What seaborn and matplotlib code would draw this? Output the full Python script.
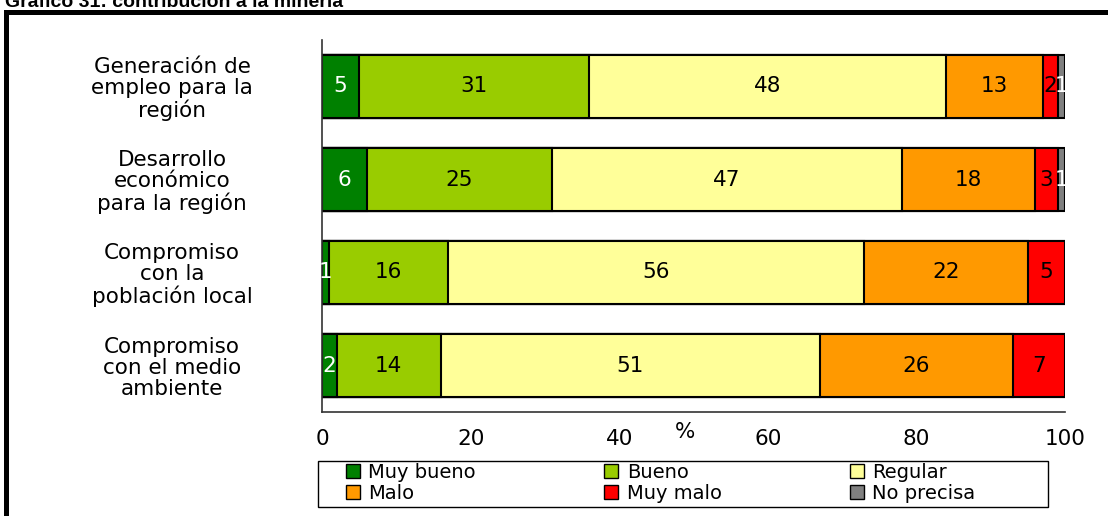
import numpy as np
import pandas as pd
import matplotlib
matplotlib.use('Agg')
import matplotlib.pyplot as plt
import seaborn as sns
from matplotlib.patches import Patch, Rectangle

# data
categories = ['Generación de\nempleo para la\nregión',
              'Desarrollo\neconómico\npara la región',
              'Compromiso\ncon la\npoblación local',
              'Compromiso\ncon el medio\nambiente']
series = ['Muy bueno', 'Bueno', 'Regular', 'Malo', 'Muy malo', 'No precisa']
muy_bueno = [5, 6, 1, 2]
bueno = [31, 25, 16, 14]
regular = [48, 47, 56, 51]
malo = [13, 18, 22, 26]
muy_malo = [2, 3, 5, 7]
no_precisa = [1, 1, 0, 0]

colors = ['#008000', '#99CC00', '#FFFF99', '#FF9900', '#FF0000', '#808080']
text_colors = ['white', 'black', 'black', 'black', 'black', 'white']

sns.set_style('white')
plt.rcParams['font.family'] = ['DejaVu Sans']
plt.rcParams['text.color'] = 'black'
plt.rcParams['xtick.color'] = 'black'
plt.rcParams['ytick.color'] = 'black'

values = np.array([muy_bueno, bueno, regular, malo, muy_malo, no_precisa])
cum = values.cumsum(axis=0)
df = pd.DataFrame(cum.T, columns=series)
df['categoria'] = categories

W, H = 1108, 516
fig = plt.figure(figsize=(W / 100, H / 100), dpi=100)
ax = fig.add_axes([322 / W, 1 - 412 / H, 743 / W, 372 / H])

# stacked bars: draw cumulative totals from the outermost segment inwards
for i in reversed(range(len(series))):
    sns.barplot(data=df, x=series[i], y='categoria', color=colors[i],
                saturation=1, orient='h', width=0.67, edgecolor='black',
                linewidth=1.5, ax=ax)

# segment labels
for i in range(len(series)):
    for j in range(len(categories)):
        v = values[i, j]
        if v == 0:
            continue
        start = cum[i, j] - v
        ax.text(start + v / 2, j, str(v), ha='center', va='center',
                fontsize=15.5, color=text_colors[i])

ax.set_xlim(0, 100)
ax.set_ylim(3.5, -0.5)
ax.set_xticks(range(0, 101, 20))
ax.set_xlabel('')
ax.set_ylabel('')
ax.tick_params(axis='x', direction='inout', length=6, width=1.2,
               labelsize=15.5, pad=9)
ax.tick_params(axis='y', which='major', length=0, labelsize=15.5, pad=108)
ax.set_yticks([-0.5, 0.5, 1.5, 2.5, 3.5], minor=True)
ax.tick_params(axis='y', which='minor', direction='out', length=9, width=1.2)
for lab in ax.get_yticklabels():
    lab.set_ha('center')
    lab.set_multialignment('center')
    lab.set_linespacing(1.05)

sns.despine(ax=ax)
for s in ['left', 'bottom']:
    ax.spines[s].set_linewidth(1.2)
    ax.spines[s].set_color('#333333')

fig.text(685 / W, 1 - 432 / H, '%', ha='center', va='center', fontsize=15.5)

# legend, row-wise order in a 3-column layout, with its own frame
handles = [Patch(facecolor=c, edgecolor='black', linewidth=1) for c in colors]
order = [0, 3, 1, 4, 2, 5]
fig.legend([handles[k] for k in order], [series[k] for k in order],
           ncol=3, loc='upper left', bbox_to_anchor=(346 / W, 1 - 463 / H),
           fontsize=14, frameon=False, borderpad=0, borderaxespad=0,
           handlelength=0.7, handleheight=0.7, handletextpad=0.45,
           labelspacing=0.08, columnspacing=6.6)
fig.add_artist(Rectangle((318 / W, 1 - 507 / H), 730 / W, 46 / H,
                         transform=fig.transFigure, fill=False,
                         edgecolor='black', linewidth=1))

# outer frame and cut-off title
fig.add_artist(Rectangle((5.5 / W, -0.1), 1.2, 1 - 11.5 / H + 0.1,
                         transform=fig.transFigure, fill=False,
                         edgecolor='black', linewidth=3.6))
fig.text(5 / W, 1 - 7 / H, 'Gráfico 31: contribución a la minería',
         fontsize=14, fontweight='bold', family='Liberation Sans',
         va='baseline', ha='left')

fig.savefig('out.png', dpi=100)
